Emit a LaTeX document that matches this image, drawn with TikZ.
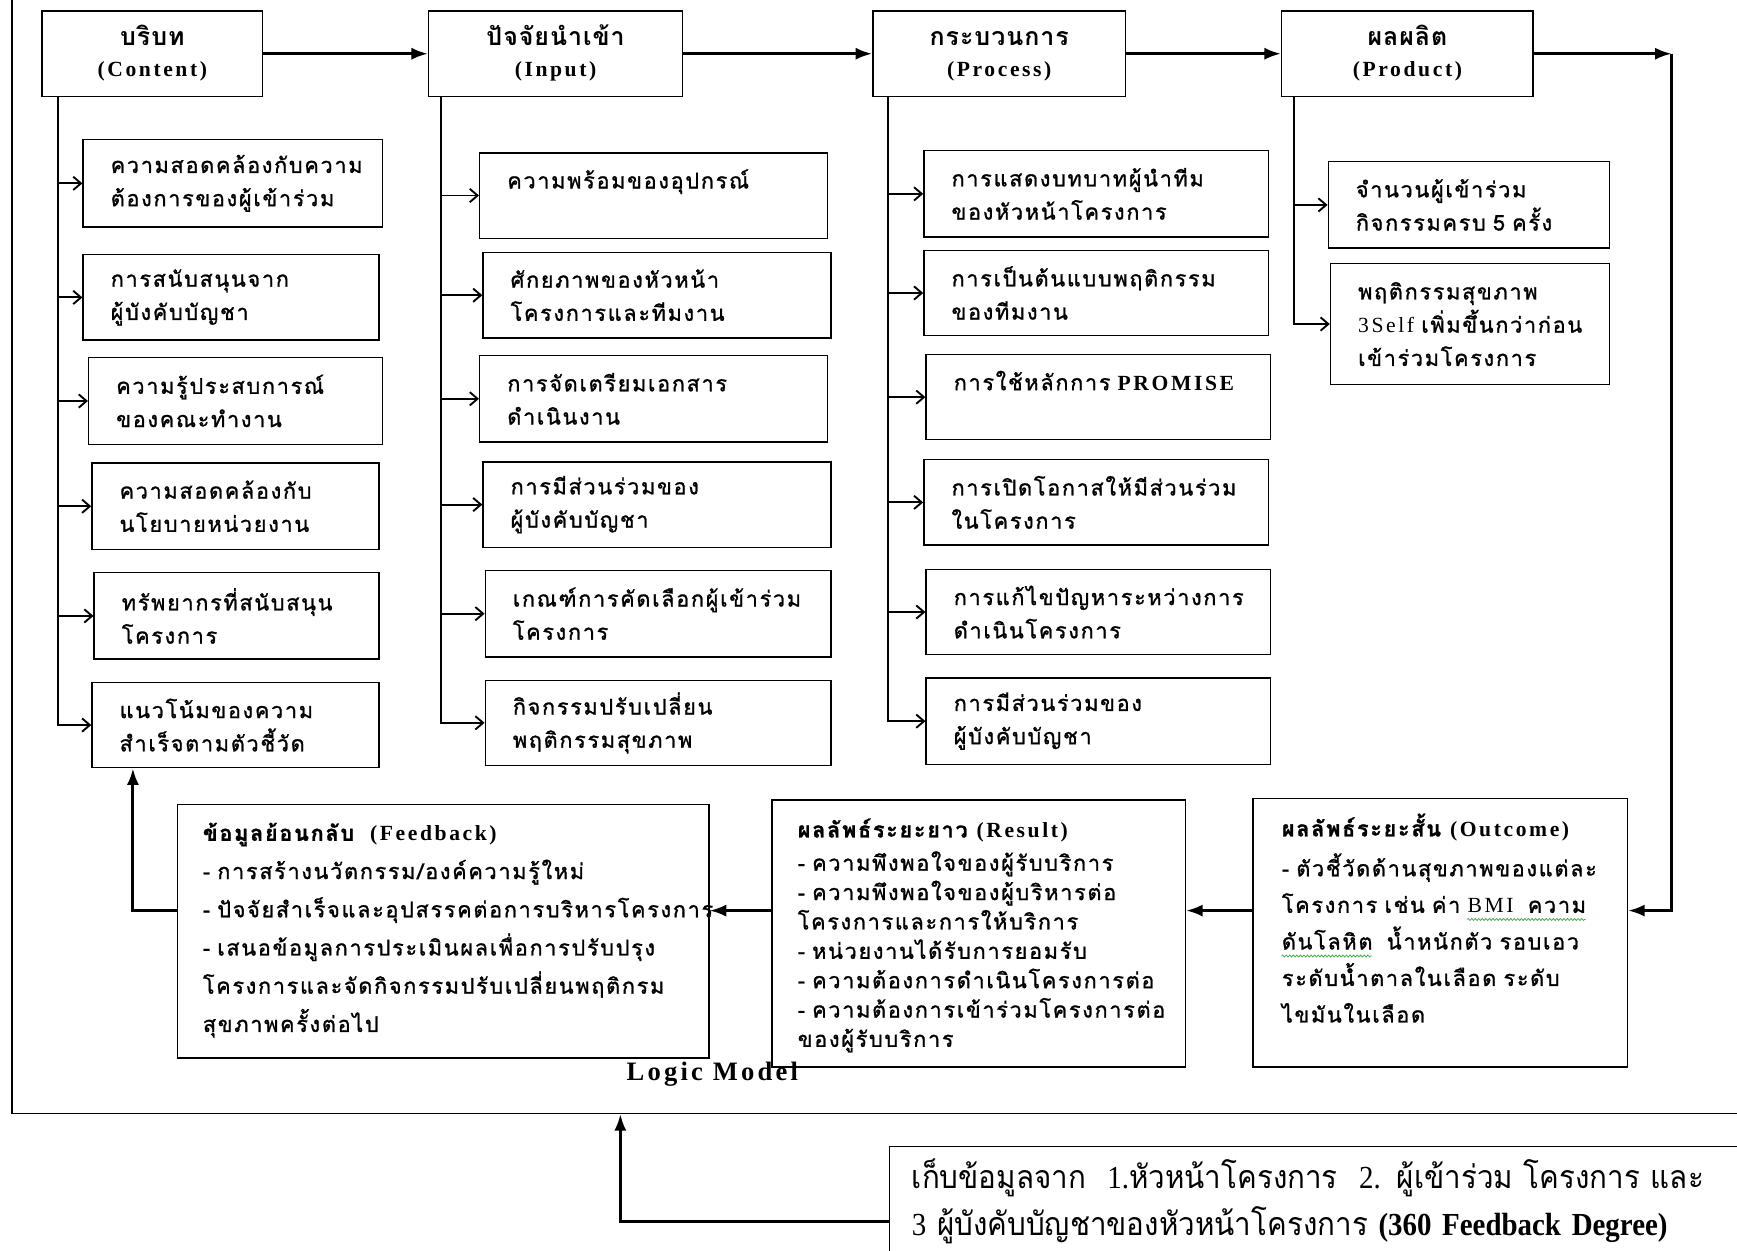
\documentclass[tikz,border=0pt]{standalone}
\usepackage{fontspec}
\setmainfont{Liberation Serif}
\newfontfamily\thaibody[Script=Thai,LetterSpace=8,FakeBold=1.2]{Loma}
\newfontfamily\thaihead[Script=Thai,LetterSpace=4]{Loma}
\newfontfamily\thainarrow[Script=Thai,FakeStretch=0.92]{Loma}
\newfontfamily\serifsp[LetterSpace=12]{Liberation Serif}
\newfontfamily\serifnarrow[FakeStretch=0.9]{Liberation Serif}
\usetikzlibrary{arrows.meta,calc,decorations.pathmorphing}
\definecolor{spellgreen}{RGB}{70,170,70}

% Latin words inside Thai text are set in a spaced serif
\newcommand\en[1]{{\serifsp #1}}
% green wavy proofing underline under a run of text
\newsavebox\wavebox
\newcommand\gwave[1]{\sbox\wavebox{#1}\usebox\wavebox\llap{\tikz[baseline=0pt]
  \draw[spellgreen,line width=0.7pt,decorate,
        decoration={snake,amplitude=0.9pt,segment length=3.2pt}]
    (0pt,-6pt) -- (\wd\wavebox,-6pt);}}

% header box: name, left, right, Thai title, Latin title
% (the struts keep both lines at the same height in every header)
\newcommand\headnode[5]{%
  \node[headbox, minimum width={(#3-#2)*1pt}, text width={(#3-#2)*1pt}]
    (#1) at ({(#2+#3)/2},48.5)
    {\rule{0pt}{24pt}#4\\\en{\fontsize{19.5}{28}\selectfont #5}\rule[-11pt]{0pt}{11pt}};}

% item box: name, left, top, right, bottom, text
\newcommand\itemnode[6]{%
  \node[itembox, minimum width={(#4-#2)*1pt}, minimum height={(#5-#3)*1pt},
        text width={(#4-#2-50)*1pt}]
    (#1) at ({(#2+#4)/2},{(#3+#5)/2}) {#6};}

\begin{document}
\begin{tikzpicture}[x=1pt,y=-1pt,
  outline/.style={draw,line width=1.3pt,inner sep=0pt},
  headbox/.style={outline,minimum height=77pt,align=center,
     font=\thaihead\bfseries\fontsize{22.5}{28}\selectfont},
  itembox/.style={draw,line width=1.2pt,inner ysep=0pt,inner xsep=25pt,align=left,
     font=\thaibody\fontsize{19.5}{30}\selectfont},
  paneltext/.style={anchor=base west,inner sep=0pt,align=left,text width=560pt,
     font=\thaibody\fontsize{19.5}{30}\selectfont},
  flow/.style={line width=2.6pt,-{Latex[length=15pt,width=11pt]}},
  twig/.style={line width=1.7pt,-{Straight Barb[length=7pt,width=12pt]}},
]
\useasboundingbox (0,0) rectangle (1568,1129);
\clip (0,0) rectangle (1568,1129);

% outer frame of the logic model
\node[outline, minimum width=1589pt, minimum height=1025pt] (frame) at (805.5,492.5) {};

% stage headers
\headnode{content}{38}{237}{บริบท}{(Content)}
\headnode{input}{387}{616}{ปัจจัยนำเข้า}{(Input)}
\headnode{process}{788}{1016}{กระบวนการ}{(Process)}
\headnode{product}{1157}{1384}{ผลผลิต}{(Product)}

% context items
\itemnode{c1}{75}{126}{345}{205}{ความสอดคล้องกับความ\\ต้องการของผู้เข้าร่วม}
\itemnode{c2}{75}{230}{342}{307}{การสนับสนุนจาก\\ผู้บังคับบัญชา}
\itemnode{c3}{80}{323}{345}{401}{ความรู้ประสบการณ์\\ของคณะทำงาน}
\itemnode{c4}{83}{418}{342}{496}{ความสอดคล้องกับ\\นโยบายหน่วยงาน}
\itemnode{c5}{85}{517}{342}{595}{ทรัพยากรที่สนับสนุน\\โครงการ}
\itemnode{c6}{83}{616}{342}{693}{แนวโน้มของความ\\สำเร็จตามตัวชี้วัด}

% input items
\itemnode{i1}{433}{138}{747}{215}{ความพร้อมของอุปกรณ์\\[0pt]\mbox{}}
\itemnode{i2}{436}{228}{750}{305}{ศักยภาพของหัวหน้า\\โครงการและทีมงาน}
\itemnode{i3}{433}{321}{747}{399}{การจัดเตรียมเอกสาร\\ดำเนินงาน}
\itemnode{i4}{436}{417}{750}{494}{การมีส่วนร่วมของ\\ผู้บังคับบัญชา}
\itemnode{i5}{438}{515}{750}{593}{เกณฑ์การคัดเลือกผู้เข้าร่วม\\โครงการ}
\itemnode{i6}{438}{614}{750}{691}{กิจกรรมปรับเปลี่ยน\\พฤติกรรมสุขภาพ}

% process items
\itemnode{p1}{834}{136}{1145}{214}{การแสดงบทบาทผู้นำทีม\\ของหัวหน้าโครงการ}
\itemnode{p2}{834}{226}{1145}{303}{การเป็นต้นแบบพฤติกรรม\\ของทีมงาน}
\itemnode{p3}{836}{320}{1147}{397}{การใช้หลักการ~\en{\bfseries PROMISE}\\[0pt]\mbox{}}
\itemnode{p4}{834}{415}{1145}{492}{การเปิดโอกาสให้มีส่วนร่วม\\ในโครงการ}
\itemnode{p5}{836}{514}{1147}{591}{การแก้ไขปัญหาระหว่างการ\\ดำเนินโครงการ}
\itemnode{p6}{836}{612}{1147}{690}{การมีส่วนร่วมของ\\ผู้บังคับบัญชา}

% product items
\itemnode{d1}{1199}{146}{1453}{224}{จำนวนผู้เข้าร่วม\\กิจกรรมครบ~5~ครั้ง}
\itemnode{d2}{1201}{238}{1453}{347}{พฤติกรรมสุขภาพ\\\en{3Self}~เพิ่มขึ้นกว่าก่อน\\เข้าร่วมโครงการ}

% lower panels
\node[outline, minimum width=480pt, minimum height=229pt] (feedback) at (400,840.5) {};
\node[outline, minimum width=373pt, minimum height=241pt] (result) at (883.5,842.5) {};
\node[outline, minimum width=338pt, minimum height=242pt] (outcome) at (1300,842) {};
\node[outline, minimum width=797pt, minimum height=135pt] (collect) at (1201.5,1102.5) {};

\node[paneltext, font=\thaibody\fontsize{19.5}{34.5}\selectfont]
  (feedbacktext) at (183,759)
  {\textbf{ข้อมูลย้อนกลับ}\ \ \en{\bfseries(Feedback)}\\
   - การสร้างนวัตกรรม/องค์ความรู้ใหม่\\
   - ปัจจัยสำเร็จและอุปสรรคต่อการบริหารโครงการ\\
   - เสนอข้อมูลการประเมินผลเพื่อการปรับปรุง\\
   โครงการและจัดกิจกรรมปรับเปลี่ยนพฤติกรม\\
   สุขภาพครั้งต่อไป};

\node[paneltext, font=\thaibody\fontsize{19.5}{26.5}\selectfont]
  (resulttext) at (720,756)
  {\textbf{ผลลัพธ์ระยะยาว} \en{\bfseries(Result)}\\[3.5pt]
   - ความพึงพอใจของผู้รับบริการ\\
   - ความพึงพอใจของผู้บริหารต่อ\\
   โครงการและการให้บริการ\\
   - หน่วยงานได้รับการยอมรับ\\
   - ความต้องการดำเนินโครงการต่อ\\
   - ความต้องการเข้าร่วมโครงการต่อ\\
   ของผู้รับบริการ};

\node[paneltext, font=\thaibody\fontsize{19.5}{33}\selectfont]
  (outcometext) at (1157,755)
  {\textbf{ผลลัพธ์ระยะสั้น} \en{\bfseries(Outcome)}\\[3pt]
   - ตัวชี้วัดด้านสุขภาพของแต่ละ\\
   โครงการ เช่น ค่า \gwave{\en{BMI}\ \ ความ}\\
   \gwave{ดันโลหิต}\ \ น้ำหนักตัว รอบเอว\\
   ระดับน้ำตาลในเลือด ระดับ\\
   ไขมันในเลือด};

\node[paneltext, text width=800pt, font=\thainarrow\fontsize{29}{42}\selectfont]
  (collecttext) at (823,1073)
  {เก็บข้อมูลจาก\ \ {\serifnarrow 1.}หัวหน้าโครงการ\ \ {\serifnarrow 2.} ผู้เข้าร่วม โครงการ และ\\
   {\serifnarrow 3} ผู้บังคับบัญชาของหัวหน้าโครงการ {\serifnarrow\bfseries (360 Feedback Degree)}};

\node[font=\serifsp\bfseries\fontsize{24}{26}\selectfont] (modelname) at (643,970) {Logic Model};

% main flow between the stage headers
\draw[flow] (content) -- (input);
\draw[flow] (input) -- (process);
\draw[flow] (process) -- (product);
\coordinate (corner) at (1509,48.5);
\draw[flow] (product) -- (corner);
\coordinate (fy) at (0,822);
\draw[flow] (corner) |- (outcome.east |- fy);
\draw[flow] (outcome.west |- fy) -- (result.east |- fy);
\draw[flow] (result.west |- fy) -- (feedback.east |- fy);
\coordinate (fx) at (120,0);
\draw[flow] (feedback.west |- fy) -| (c6.south -| fx);
\coordinate (gx) at (560,0);
\draw[flow] (collect.west) -| (frame.south -| gx);

% branches from each stage header to its items
\coordinate (ct) at ($(content.south west)+(15,0)$);
\draw[twig] (ct) |- (c6.west);
\foreach \n in {c1,c2,c3,c4,c5} \draw[twig] (ct |- \n.west) -- (\n.west);
\coordinate (it) at ($(input.south west)+(12,0)$);
\draw[twig] (it) |- (i6.west);
\foreach \n in {i1,i2,i3,i4,i5} \draw[twig] (it |- \n.west) -- (\n.west);
\coordinate (pt) at ($(process.south west)+(14,0)$);
\draw[twig] (pt) |- (p6.west);
\foreach \n in {p1,p2,p3,p4,p5} \draw[twig] (pt |- \n.west) -- (\n.west);
\coordinate (dt) at ($(product.south west)+(12,0)$);
\draw[twig] (dt) |- (d2.west);
\draw[twig] (dt |- d1.west) -- (d1.west);
\end{tikzpicture}
\end{document}
